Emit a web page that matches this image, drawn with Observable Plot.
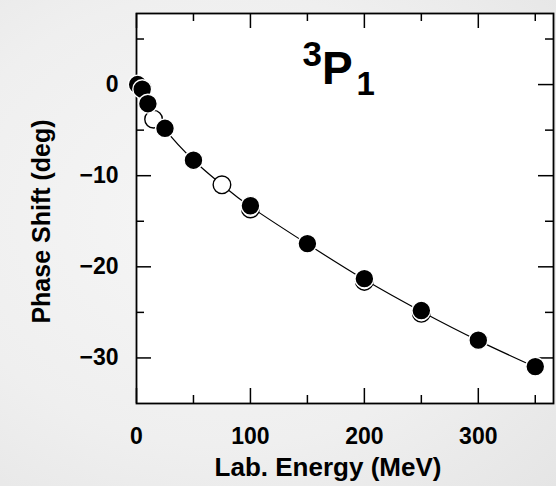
<!DOCTYPE html>
<html><head><meta charset="utf-8">
<script src="https://cdn.jsdelivr.net/npm/d3@7"></script>
<script src="https://cdn.jsdelivr.net/npm/@observablehq/plot@0.6"></script>
<style>
html,body{margin:0;padding:0;}
body{width:556px;height:486px;overflow:hidden;background:radial-gradient(ellipse at 40% 45%, #f6f6f6 0%, #efefef 60%, #e5e5e5 100%);}
</style></head><body>
<div id="chart"></div>
<script>
// Data
const filledEnergy = [1, 5, 10, 25, 50, 100, 150, 200, 250, 300, 350];
const filledPhase  = [0.0, -0.5, -2.1, -4.8, -8.3, -13.3, -17.45, -21.3, -24.8, -28.05, -30.95];
const openEnergy = [15, 75, 100, 200, 250];
const openPhase  = [-3.8, -11.0, -13.65, -21.6, -25.1];
const curveEnergy = [0, 1, 5, 10, 25, 50, 75, 100, 150, 200, 250, 300, 350];
const curvePhase  = [0.1, 0.0, -0.6, -2.0, -4.9, -8.3, -11.0, -13.4, -17.5, -21.4, -24.9, -28.1, -31.0];
const xMajor = [0, 100, 200, 300];
const xMinor = [50, 150, 250, 350];
const yMajor = [0, -10, -20, -30];
const yMinor = [5, -5, -15, -25];
const xLabel = "Lab. Energy (MeV)";
const yLabel = "Phase Shift (deg)";
const titleSup = "3", titleMain = "P", titleSub = "1";

const filled = filledEnergy.map((e, i) => ({e, d: filledPhase[i]}));
const open = openEnergy.map((e, i) => ({e, d: openPhase[i]}));
const curve = curveEnergy.map((e, i) => ({e, d: curvePhase[i]}));

const W = 556, H = 486, mL = 136, mR = 3, mT = 13, mB = 83;
const iw = W - mL - mR, ih = H - mT - mB;
const major = 15, minor = 8;
const font = "'Liberation Sans', Arial, Helvetica, sans-serif";

const plot = Plot.plot({
  width: W, height: H,
  marginLeft: mL, marginRight: mR, marginTop: mT, marginBottom: mB,
  style: {fontFamily: font, fontWeight: "bold", background: "transparent", color: "black", overflow: "visible"},
  x: {domain: [0, 366]},
  y: {domain: [-35, 7.8]},
  marks: [
    Plot.frame({fill: "white", stroke: null}),
    // inward ticks, bottom & top
    Plot.tickX(xMajor, {x: d => d, insetTop: ih - major, stroke: "black", strokeWidth: 1.5}),
    Plot.tickX(xMajor, {x: d => d, insetBottom: ih - major, stroke: "black", strokeWidth: 1.5}),
    Plot.tickX(xMinor, {x: d => d, insetTop: ih - minor, stroke: "black", strokeWidth: 1.5}),
    Plot.tickX(xMinor, {x: d => d, insetBottom: ih - minor, stroke: "black", strokeWidth: 1.5}),
    // inward ticks, left & right
    Plot.tickY(yMajor, {y: d => d, insetRight: iw - major, stroke: "black", strokeWidth: 1.5}),
    Plot.tickY(yMajor, {y: d => d, insetLeft: iw - major, stroke: "black", strokeWidth: 1.5}),
    Plot.tickY(yMinor, {y: d => d, insetRight: iw - minor, stroke: "black", strokeWidth: 1.5}),
    Plot.tickY(yMinor, {y: d => d, insetLeft: iw - minor, stroke: "black", strokeWidth: 1.5}),
    Plot.frame({stroke: "black", strokeWidth: 1.8}),
    Plot.axisX({ticks: xMajor, tickSize: 0, tickPadding: 24, fontSize: 23, fontWeight: "bold", label: null}),
    Plot.axisY({ticks: yMajor, tickSize: 0, tickPadding: 18, fontSize: 23, fontWeight: "bold", label: null}),
    Plot.line(curve, {x: "e", y: "d", curve: "natural", stroke: "black", strokeWidth: 1.2}),
    Plot.dot(open, {x: "e", y: "d", r: 8.8, fill: "white", stroke: "black", strokeWidth: 1.4}),
    Plot.dot(filled, {x: "e", y: "d", r: 9.4, fill: "black", stroke: "white", strokeWidth: 1.4}),
    Plot.text([xLabel], {text: d => d, frameAnchor: "bottom", dx: -17, dy: 72, lineAnchor: "bottom", fontSize: 26, fontWeight: "bold"}),
    Plot.text([yLabel], {text: d => d, frameAnchor: "left", textAnchor: "middle", rotate: -90, dx: -87, dy: 13, lineAnchor: "bottom", fontSize: 25, fontWeight: "bold"}),
    Plot.text([titleSup], {text: d => d, frameAnchor: "top-left", textAnchor: "start", lineAnchor: "bottom", dx: 166, dy: 52, fontSize: 35, fontWeight: "bold"}),
    Plot.text([titleMain], {text: d => d, frameAnchor: "top-left", textAnchor: "start", lineAnchor: "bottom", dx: 185.5, dy: 70, fontSize: 46, fontWeight: "bold"}),
    Plot.text([titleSub], {text: d => d, frameAnchor: "top-left", textAnchor: "start", lineAnchor: "bottom", dx: 220, dy: 81, fontSize: 33, fontWeight: "bold"})
  ]
});
document.getElementById("chart").appendChild(plot);
</script>
</body></html>
